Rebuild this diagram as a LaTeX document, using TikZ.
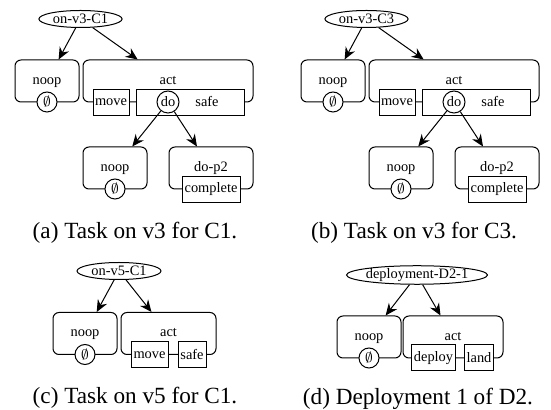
\documentclass[tikz,border=0pt]{standalone}
\usepackage{fontspec}
\setmainfont{Liberation Serif}
\usepackage{tikz}
\usetikzlibrary{arrows.meta,shapes}

\begin{document}
\begin{tikzpicture}[x=0.5pt,y=-0.5pt,line width=0.5pt,>={Stealth[length=6pt,width=5.2pt,inset=2pt]},font=\fontsize{7.2}{8.6}\selectfont]
    % styles for the decomposition trees
    \tikzstyle{task-goal}=[ellipse,draw,inner xsep=0.9pt,inner ysep=0pt,minimum height=8.5pt]
    \tikzstyle{method-box}=[rectangle,draw,rounded corners=3pt,minimum height=21pt]
    \tikzstyle{sub-box}=[rectangle,draw,fill=white,minimum height=13pt,inner sep=1pt]
    \tikzstyle{nil-circle}=[circle,draw,fill=white,minimum size=10pt,inner sep=0pt]
    \tikzstyle{task-text}=[anchor=base,inner sep=0pt]
    \tikzstyle{fig-caption}=[anchor=base,font=\fontsize{11.6}{14}\selectfont]

    \useasboundingbox (0,0) rectangle (551,410);

    % (a)
    \node [task-goal,minimum width=41.5pt] (goalA) at (80.5,19) {on-v3-C1};
    \node [method-box,minimum width=32pt] (noopA) at (47,81) {};
    \node [task-text] (noopAtxt) at (47,84.5) {noop};
    \node [nil-circle] (nilA) at (47,102) {$\emptyset$};
    \node [method-box,minimum width=85pt] (actA) at (168,81) {};
    \node [task-text] (actAtxt) at (168,84.5) {act};
    \node [sub-box,minimum width=18pt] (moveA) at (111,102.5) {move};
    \node [sub-box,minimum width=54pt] (safeA) at (190,102.5) {};
    \node [nil-circle,minimum size=11pt] (doA) at (168,102) {do};
    \node (safeAtxt) at (207,102) {safe};
    \node [method-box,minimum width=32pt] (noopA2) at (115,168) {};
    \node [task-text] (noopA2txt) at (115,171.5) {noop};
    \node [nil-circle] (nilA2) at (115,189) {$\emptyset$};
    \node [method-box,minimum width=42pt] (dopA) at (211,168) {};
    \node [task-text] (dopAtxt) at (211,171.5) {do-p2};
    \node [sub-box,minimum width=29pt] (completeA) at (211,189.5) {complete};

    \path (goalA) edge [->] (noopA);
    \path (goalA) edge [->] (actA);
    \path (doA) edge [->] (noopA2);
    \path (doA) edge [->] (dopA);

    \node [fig-caption] (capA) at (135,239) {(a) Task on v3 for C1.};

    % (b)
    \node [task-goal,minimum width=41.5pt] (goalB) at (366.5,19) {on-v3-C3};
    \node [method-box,minimum width=32pt] (noopB) at (333,81) {};
    \node [task-text] (noopBtxt) at (333,84.5) {noop};
    \node [nil-circle] (nilB) at (333,102) {$\emptyset$};
    \node [method-box,minimum width=85pt] (actB) at (454,81) {};
    \node [task-text] (actBtxt) at (454,84.5) {act};
    \node [sub-box,minimum width=18pt] (moveB) at (397,102.5) {move};
    \node [sub-box,minimum width=54pt] (safeB) at (476,102.5) {};
    \node [nil-circle,minimum size=11pt] (doB) at (454,102) {do};
    \node (safeBtxt) at (493,102) {safe};
    \node [method-box,minimum width=32pt] (noopB2) at (401,168) {};
    \node [task-text] (noopB2txt) at (401,171.5) {noop};
    \node [nil-circle] (nilB2) at (401,189) {$\emptyset$};
    \node [method-box,minimum width=42pt] (dopB) at (497,168) {};
    \node [task-text] (dopBtxt) at (497,171.5) {do-p2};
    \node [sub-box,minimum width=29pt] (completeB) at (497,189.5) {complete};

    \path (goalB) edge [->] (noopB);
    \path (goalB) edge [->] (actB);
    \path (doB) edge [->] (noopB2);
    \path (doB) edge [->] (dopB);

    \node [fig-caption] (capB) at (414,239) {(b) Task on v3 for C3.};

    % (c)
    \node [task-goal,minimum width=42pt] (goalC) at (119,271) {on-v5-C1};
    \node [method-box,minimum width=32pt] (noopC) at (85,333.5) {};
    \node [task-text] (noopCtxt) at (85,337) {noop};
    \node [nil-circle] (nilC) at (85,354.5) {$\emptyset$};
    \node [method-box,minimum width=47.5pt] (actC) at (168.5,333.5) {};
    \node [task-text] (actCtxt) at (168.5,337) {act};
    \node [sub-box,minimum width=18.5pt] (moveC) at (149.5,355) {move};
    \node [sub-box,minimum width=14pt] (safeC) at (192,355) {safe};

    \path (goalC) edge [->] (noopC);
    \path (goalC) edge [->] (actC);

    \node [fig-caption] (capC) at (135,404) {(c) Task on v5 for C1.};

    % (d)
    \node [task-goal,minimum width=70.5pt,inner xsep=-2.5pt] (goalD) at (417,275) {deployment-D2-1};
    \node [method-box,minimum width=32pt] (noopD) at (369,337) {};
    \node [task-text] (noopDtxt) at (369,340.5) {noop};
    \node [nil-circle] (nilD) at (369,358) {$\emptyset$};
    \node [method-box,minimum width=50pt] (actD) at (453,337) {};
    \node [task-text] (actDtxt) at (453,340.5) {act};
    \node [sub-box,minimum width=20.5pt] (deployD) at (433.5,358) {deploy};
    \node [sub-box,minimum width=13pt] (landD) at (479,358) {land};

    \path (goalD) edge [->] (noopD);
    \path (goalD) edge [->] (actD);

    \node [fig-caption] (capD) at (418,405) {(d) Deployment 1 of D2.};
\end{tikzpicture}
\end{document}
